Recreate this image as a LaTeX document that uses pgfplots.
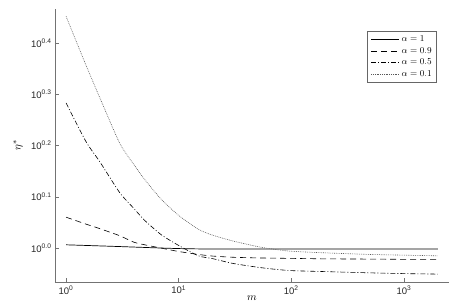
\documentclass[border=0pt]{standalone}
\usepackage{pgfplots}
\pgfplotsset{compat=1.18}
\usepackage{fontspec}
\newfontfamily\tickfont{Liberation Sans}
\begin{document}
\begin{tikzpicture}
\begin{axis}[
  scale only axis, width=394pt, height=273pt,
  xmode=log, ymode=log,
  xmin=0.798, xmax=2512, ymin=0.859, ymax=2.924,
  axis x line*=bottom, axis y line*=left,
  axis line style={black!55, line width=0.7pt, -},
  tick style={black!55, line width=0.6pt},
  tick align=inside, major tick length=4pt,
  xminorticks=false, yminorticks=false,
  xtick={1,10,100,1000},
  xticklabels={10\textsuperscript{0},10\textsuperscript{1},10\textsuperscript{2},10\textsuperscript{3}},
  ytick={1,1.258925,1.584893,1.995262,2.511886},
  yticklabels={10\textsuperscript{0.0},10\textsuperscript{0.1},10\textsuperscript{0.2},10\textsuperscript{0.3},10\textsuperscript{0.4}},
  ticklabel style={font=\fontsize{9.5}{11}\selectfont\tickfont, text=black!85},
  xlabel={$m$}, ylabel={$\eta^{*}$},
  label style={font=\fontsize{11}{12}\selectfont},
  x label style={at={(axis description cs:0.5,-0.058)}, anchor=center},
  y label style={at={(axis description cs:-0.094,0.5)}, anchor=center},
  legend style={at={(0.9695,0.92)}, anchor=north east, draw=black!60, line width=0.7pt,
    font=\fontsize{9}{10}\selectfont, row sep=0.3pt, inner xsep=3pt, inner ysep=2.5pt},
  legend cell align=left,
  legend image code/.code={\draw[#1] (0pt,0pt) -- (28pt,0pt);},
]
\addplot[black, line width=0.7pt, smooth, tension=0.4] coordinates {
 (1,1.015) (2,1.010) (3,1.007) (5,1.003) (10,0.998) (20,0.996) (100,0.996) (2000,0.996)};
\addlegendentry{$\alpha = 1$\hspace{10pt}}
\addplot[black, line width=0.6pt, dash pattern=on 6pt off 4pt, smooth, tension=0.4] coordinates {
 (1,1.149) (1.5,1.114) (2,1.091) (3,1.057) (4,1.027) (5,1.015) (7,1.000) (10,0.985)
 (15,0.972) (20,0.965) (30,0.960) (50,0.957) (100,0.955) (200,0.953) (500,0.952) (1000,0.951) (2000,0.951)};
\addlegendentry{$\alpha = 0.9$\hspace{10pt}}
\addplot[black, line width=0.6pt, dash pattern=on 5pt off 2pt on 1pt off 2pt, smooth, tension=0.4] coordinates {
 (1,1.919) (1.5,1.614) (2,1.472) (3,1.282) (4,1.195) (5,1.132) (7,1.062) (10,1.012)
 (15,0.966) (20,0.954) (30,0.934) (50,0.918) (70,0.910) (100,0.904) (200,0.900) (500,0.895) (1000,0.892) (2000,0.890)};
\addlegendentry{$\alpha = 0.5$\hspace{10pt}}
\addplot[black!65, line width=0.6pt, dash pattern=on 0.8pt off 1pt, smooth, tension=0.4] coordinates {
 (1,2.83) (1.5,2.275) (2,1.961) (3,1.600) (4,1.455) (5,1.36) (7,1.245) (10,1.158)
 (15,1.088) (20,1.060) (30,1.033) (50,1.007) (70,0.995) (100,0.986) (200,0.979) (500,0.972) (1000,0.969) (2000,0.966)};
\addlegendentry{$\alpha = 0.1$\hspace{10pt}}
\end{axis}
\pgfresetboundingbox
\path[use as bounding box] ([xshift=-55pt,yshift=-24pt]current axis.south west) rectangle ++(459pt,306pt);
\end{tikzpicture}
\end{document}
